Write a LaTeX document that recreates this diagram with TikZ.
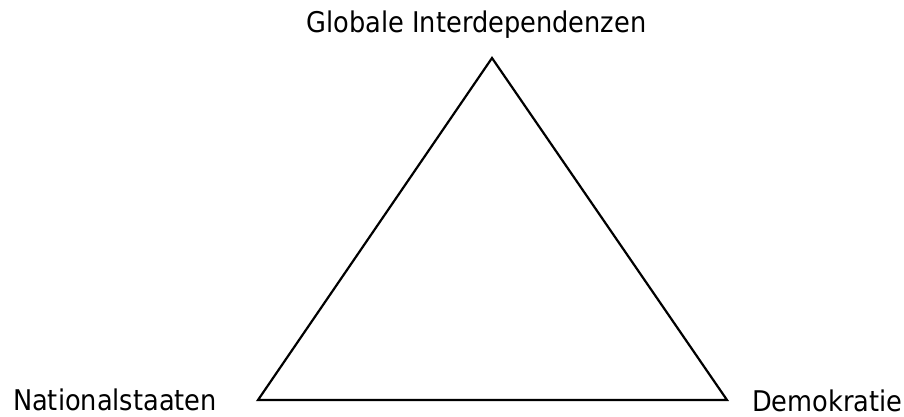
\documentclass[tikz,border=0pt]{standalone}
\usepackage{fontspec}
\setmainfont{DejaVu Sans Condensed}
\usepackage{tikz}

\begin{document}
\begin{tikzpicture}[x=1pt,y=-1pt,
  label/.style={inner sep=0pt,font=\fontsize{28.5}{32}\selectfont}]
\useasboundingbox (0,0) rectangle (904,417);

\coordinate (apex) at (492,58);
\coordinate (left) at (258,400);
\coordinate (right) at (727,400);
\draw[line width=2.2pt,line join=miter] (apex) -- (left) -- (right) -- cycle;

\node[label,anchor=base] (global) at (476.5,33) {Globale Interdependenzen};
\node[label,anchor=base east] (nation) at (217,410) {Nationalstaaten};
\node[label,anchor=base west] (demo) at (752,411) {Demokratie};
\end{tikzpicture}
\end{document}
